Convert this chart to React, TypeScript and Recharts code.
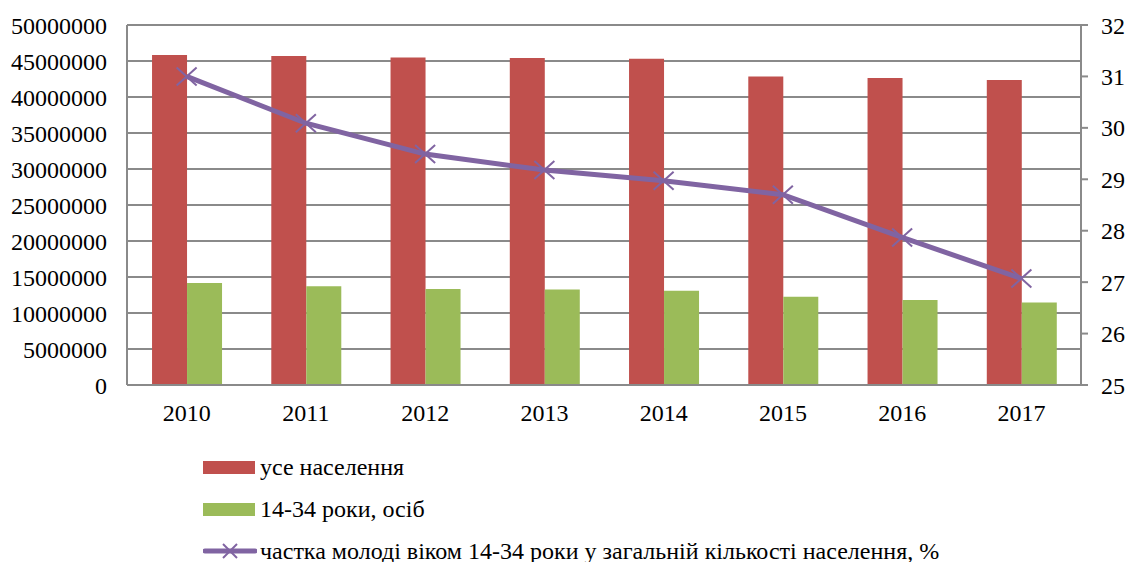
import React from 'react';
import { ComposedChart, Bar, Line, XAxis, YAxis, CartesianGrid, Legend } from 'recharts';

const years = ['2010', '2011', '2012', '2013', '2014', '2015', '2016', '2017'];
const totalPopulation = [45850000, 45700000, 45500000, 45400000, 45300000, 42850000, 42650000, 42350000];
const youthPopulation = [14150000, 13700000, 13350000, 13250000, 13100000, 12250000, 11820000, 11450000];
const youthShare = [31.0, 30.09, 29.49, 29.18, 28.97, 28.7, 27.87, 27.07];

const leftTicks = [0, 5000000, 10000000, 15000000, 20000000, 25000000, 30000000, 35000000, 40000000, 45000000, 50000000];
const rightTicks = [25, 26, 27, 28, 29, 30, 31, 32];

const seriesNames = [
  'усе населення',
  '14-34 роки, осіб',
  'частка молоді віком 14-34 роки у загальній кількості населення, %',
];

const RED = '#c0504d';
const GREEN = '#9bbb59';
const PURPLE = '#8064a2';
const GRID = '#8a8a8a';
const FONT = '"Liberation Serif", "Times New Roman", serif';

const data = years.map((y, i) => ({
  year: y,
  total: totalPopulation[i],
  youth: youthPopulation[i],
  share: youthShare[i],
}));

const XDot = (props: any) => {
  const { cx, cy } = props;
  if (cx == null || cy == null) return null;
  return (
    <g>
      <line x1={cx - 10} y1={cy - 9} x2={cx + 10} y2={cy + 9} stroke={PURPLE} strokeWidth={2} />
      <line x1={cx - 10} y1={cy + 9} x2={cx + 10} y2={cy - 9} stroke={PURPLE} strokeWidth={2} />
    </g>
  );
};

const LegendContent = (props: any) => {
  const payload: any[] = props.payload || [];
  const ordered = seriesNames
    .map((n) => payload.find((p) => p.value === n))
    .filter(Boolean);
  return (
    <div style={{ fontFamily: FONT, fontSize: 24, color: '#000' }}>
      {ordered.map((p: any) => (
        <div key={p.value} style={{ display: 'flex', alignItems: 'center', height: 42, whiteSpace: 'nowrap' }}>
          {p.type === 'line' ? (
            <svg width={54} height={20} style={{ display: 'block' }}>
              <line x1={2} y1={10} x2={52} y2={10} stroke={PURPLE} strokeWidth={5} strokeLinecap="round" />
              <line x1={20} y1={3} x2={34} y2={17} stroke={PURPLE} strokeWidth={2} />
              <line x1={20} y1={17} x2={34} y2={3} stroke={PURPLE} strokeWidth={2} />
            </svg>
          ) : (
            <div style={{ width: 52, height: 13, background: p.color }} />
          )}
          <span style={{ marginLeft: p.type === 'line' ? 3 : 5, lineHeight: 1 }}>{p.value}</span>
        </div>
      ))}
    </div>
  );
};

export default function App() {
  return (
    <div style={{ position: 'absolute', left: 0, top: 0, width: 1133, height: 562, background: '#fff' }}>
      <ComposedChart
        width={1133}
        height={562}
        data={data}
        margin={{ top: 25, right: 0, left: 0, bottom: 137 }}
        barCategoryGap="21%"
        barGap={0}
      >
        <CartesianGrid yAxisId="left" vertical={false} stroke={GRID} strokeWidth={2} />
        <XAxis
          dataKey="year"
          height={40}
          axisLine={{ stroke: GRID, strokeWidth: 2 }}
          tickLine={false}
          tickSize={0}
          tickMargin={19}
          tick={{ fill: '#000', fontSize: 24, fontFamily: FONT }}
        />
        <YAxis
          yAxisId="left"
          width={127}
          domain={[0, 50000000]}
          ticks={leftTicks}
          interval={0}
          axisLine={{ stroke: GRID, strokeWidth: 2 }}
          tickLine={false}
          tickSize={0}
          tickMargin={20}
          tick={{ fill: '#000', fontSize: 24, fontFamily: FONT }}
        />
        <YAxis
          yAxisId="right"
          orientation="right"
          width={52}
          domain={[25, 32]}
          ticks={rightTicks}
          interval={0}
          axisLine={{ stroke: GRID, strokeWidth: 2 }}
          tickLine={{ stroke: GRID, strokeWidth: 2 }}
          tickSize={7}
          tickMargin={13}
          tick={{ fill: '#000', fontSize: 24, fontFamily: FONT, textAnchor: 'start' }}
        />
        <Bar yAxisId="left" dataKey="total" name={seriesNames[0]} fill={RED} isAnimationActive={false} legendType="rect" />
        <Bar yAxisId="left" dataKey="youth" name={seriesNames[1]} fill={GREEN} isAnimationActive={false} legendType="rect" />
        <Line
          yAxisId="right"
          dataKey="share"
          name={seriesNames[2]}
          stroke={PURPLE}
          strokeWidth={5}
          dot={<XDot />}
          activeDot={false}
          isAnimationActive={false}
          legendType="line"
        />
        <Legend
          layout="vertical"
          align="center"
          verticalAlign="middle"
          content={<LegendContent />}
          wrapperStyle={{ position: 'absolute', top: 446, left: 203, width: 920, height: 126 }}
        />
      </ComposedChart>
    </div>
  );
}
